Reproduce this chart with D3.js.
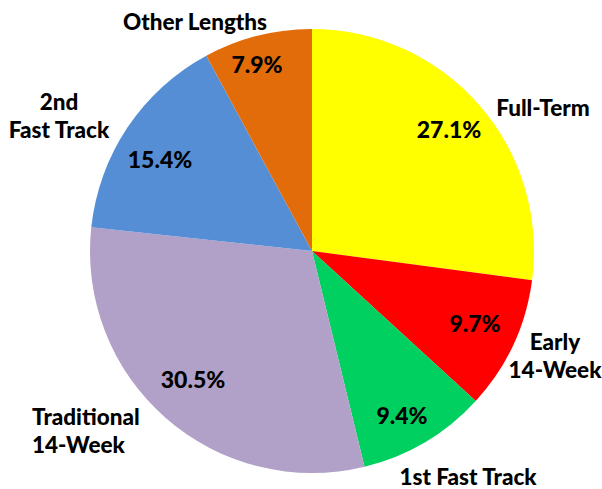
<!DOCTYPE html>
<html><head><meta charset="utf-8">
<script src="https://cdn.jsdelivr.net/npm/d3@7"></script>
<style>html,body{margin:0;padding:0;background:#fff;}svg{display:block;}</style>
</head><body>
<svg id="chart" width="602" height="489"></svg>
<script>
const categories = ["Full-Term", "Early 14-Week", "1st Fast Track", "Traditional 14-Week", "2nd Fast Track", "Other Lengths"];
const values = [27.1, 9.7, 9.4, 30.5, 15.4, 7.9];
const colors = ["#FFFF00", "#FF0000", "#00D060", "#B1A0C7", "#558ED5", "#E36C0A"];
const labelLines = [["Full-Term"], ["Early", "14-Week"], ["1st Fast Track"], ["Traditional", "14-Week"], ["2nd", "Fast Track"], ["Other Lengths"]];

const W = 602, H = 489, cx = 312, cy = 251, R = 222;
const font = "Lato, 'Open Sans', sans-serif";

// label layout (offsets from pie centre), style only
const pctPos = [[137, -113], [163, 81], [90, 173], [-119, 137], [-152, -83], [-55, -178]];
const catPos = [
  {dx: 231, dy: -135, anchor: "middle"},
  {dx: 243, dy: 99, anchor: "middle"},
  {dx: 156, dy: 234, anchor: "middle"},
  {dx: -280, dy: 174, anchor: "start"},
  {dx: -253, dy: -141, anchor: "middle"},
  {dx: -117, dy: -221, anchor: "middle"}
];

const svg = d3.select("#chart");
const g = svg.append("g").attr("transform", `translate(${cx},${cy})`);
const pie = d3.pie().sort(null).value(d => d.v);
const arc = d3.arc().innerRadius(0).outerRadius(R);
const data = categories.map((c, i) => ({c, v: values[i], i}));
const arcs = pie(data);

g.selectAll("path.slice").data(arcs).join("path")
  .attr("class", "slice")
  .attr("d", arc)
  .attr("fill", d => colors[d.data.i]);

g.selectAll("text.pct").data(arcs).join("text")
  .attr("class", "pct")
  .attr("x", d => pctPos[d.data.i][0])
  .attr("y", d => pctPos[d.data.i][1])
  .attr("text-anchor", "middle")
  .attr("font-family", font).attr("font-weight", 900).attr("font-size", 23)
  .attr("fill", "#000")
  .text(d => d3.format(".1f")(d.data.v) + "%");

const cat = g.selectAll("text.cat").data(arcs).join("text")
  .attr("class", "cat")
  .attr("text-anchor", d => catPos[d.data.i].anchor)
  .attr("font-family", font).attr("font-weight", 900).attr("font-size", 22.5)
  .attr("fill", "#000");
cat.each(function(d) {
  const p = catPos[d.data.i];
  const lines = labelLines[d.data.i];
  d3.select(this).selectAll("tspan").data(lines).join("tspan")
    .attr("x", p.dx)
    .attr("y", (l, k) => p.dy + k * 28)
    .text(l => l);
});
</script>
</body></html>
